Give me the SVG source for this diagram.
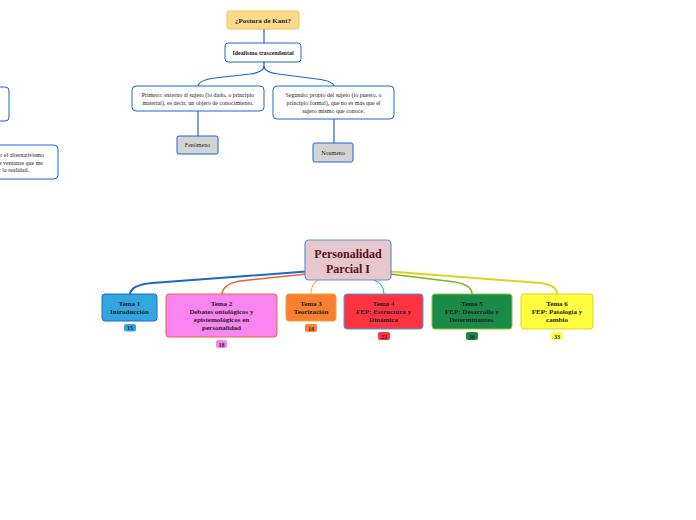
<svg xmlns="http://www.w3.org/2000/svg" width="696" height="520" viewBox="0 0 696 520">
<style>
text{font-family:"Liberation Serif","Times New Roman",serif;text-anchor:middle;fill:#222}
.b{font-weight:bold}
.s{font-size:6px}
.t{font-size:7px;font-weight:bold}
.w{fill:#fff;stroke:#1a66d0;stroke-width:1}
.c{fill:none;stroke-linecap:round}
.bd{font-size:6px;font-weight:bold}
</style>
<rect width="696" height="520" fill="#fff"/>
<g id="connectors">
<path class="c" d="M264,29 V43" stroke="#1a66d0" stroke-width="1.2"/>
<path class="c" d="M264,62 V66 Q264,72 250,74 L215,78 Q199,80 198,86" stroke="#1a66d0" stroke-width="1.2"/>
<path class="c" d="M264,66 Q264,72 278,74 L317,79 Q333,81 334,86" stroke="#1a66d0" stroke-width="1.2"/>
<path class="c" d="M198,111 V136" stroke="#1a66d0" stroke-width="1.2"/>
<path class="c" d="M334,119 V143" stroke="#1a66d0" stroke-width="1.2"/>
<path class="c" d="M306,271.5 L152,283 Q131,285 130,294" stroke="#1a66d0" stroke-width="2"/>
<path class="c" d="M306,274 L240,281 Q223,284 222,294" stroke="#f06030" stroke-width="1.5"/>
<path class="c" d="M318,280 Q311,284 311,294" stroke="#f5b030" stroke-width="1.1"/>
<path class="c" d="M374,280 Q384,284 384,294" stroke="#33a6e0" stroke-width="1.1"/>
<path class="c" d="M390,274 L455,282 Q472,285 472,294" stroke="#80b020" stroke-width="1.5"/>
<path class="c" d="M390,271.5 L540,283 Q557,285 557,294" stroke="#e0d020" stroke-width="2"/>
</g>
<g id="kant"><rect x="227" y="11" width="72" height="18" rx="3" fill="#ffd98a" stroke="#f0c050"/><text class="b" font-size="7" x="263" y="22.5">¿Postura de Kant?</text></g>
<g id="idealismo"><rect class="w" x="225" y="43" width="76" height="19" rx="3"/><text class="s b" x="263" y="54.5">Idealismo trascendental</text></g>
<g id="primero"><rect class="w" x="132" y="86" width="132" height="25" rx="4"/><text class="s" x="198" y="96.5">Primero: externo al sujeto (lo dado, o principio</text><text class="s" x="198" y="104.5">material), es decir, un objeto de conocimiento.</text></g>
<g id="segundo"><rect class="w" x="273" y="86" width="121" height="33" rx="4"/><text class="s" x="333.5" y="96.5">Segundo: propio del sujeto (lo puesto, o</text><text class="s" x="333.5" y="104.5">principio formal), que no es más que el</text><text class="s" x="333.5" y="112.5">sujeto mismo que conoce.</text></g>
<g id="fenomeno"><rect x="177" y="136" width="41" height="18" rx="2" fill="#d3d3d3" stroke="#1a66d0"/><text class="s" x="197.5" y="147">Fenómeno</text></g>
<g id="noumeno"><rect x="313" y="143" width="40" height="19" rx="2" fill="#d3d3d3" stroke="#1a66d0"/><text class="s" x="333" y="154.5">Noumeno</text></g>
<g id="left1"><rect class="w" x="-40" y="87" width="49" height="34" rx="4"/></g>
<g id="left2"><rect class="w" x="-80" y="145" width="138" height="34" rx="4"/><text class="s" x="44" y="157" style="text-anchor:end">r el alternativismo</text><text class="s" x="43" y="164.5" style="text-anchor:end">s ventanas que me</text><text class="s" x="29" y="172" style="text-anchor:end">r la realidad.</text></g>
<g id="central"><rect x="305" y="240" width="86" height="40" rx="4" fill="#e6c7cb" stroke="#5a8ee0" stroke-width="1.2"/><text class="b" x="348" y="257.5" font-size="12" style="fill:#5a1020">Personalidad</text><text class="b" x="348" y="273" font-size="12" style="fill:#5a1020">Parcial I</text></g>
<g id="tema1"><rect x="102" y="294" width="55" height="27" rx="3" fill="#33a6e0" stroke="#1a66d0"/><text class="t" x="129.5" y="305.5">Tema 1</text><text class="t" x="129.5" y="313.5">Introducción</text><rect x="124" y="324" width="12" height="7.5" rx="2" fill="#33a6e0"/><text class="bd" x="130" y="330">15</text></g>
<g id="tema2"><rect x="166" y="294" width="111" height="43" rx="3" fill="#f986f0" stroke="#f06030"/><text class="t" x="221.5" y="305.5">Tema 2</text><text class="t" x="221.5" y="313.5">Debates ontológicos y</text><text class="t" x="221.5" y="321.5">epistemológicos en</text><text class="t" x="221.5" y="330">personalidad</text><rect x="216" y="340" width="11" height="8" rx="2" fill="#f986f0"/><text class="bd" x="221.5" y="346.5">18</text></g>
<g id="tema3"><rect x="286" y="294" width="50" height="27" rx="3" fill="#f98030" stroke="#f5a030"/><text class="t" x="311" y="305.5">Tema 3</text><text class="t" x="311" y="313.5">Teorización</text><rect x="305" y="324" width="12" height="8" rx="2" fill="#f98030"/><text class="bd" x="311" y="330.5">14</text></g>
<g id="tema4"><rect x="344" y="294" width="79" height="35" rx="3" fill="#ff3440" stroke="#33a6e0"/><text class="t" x="383.5" y="305.5">Tema 4</text><text class="t" x="383.5" y="313.5">FEP: Estructura y</text><text class="t" x="383.5" y="322">Dinámica</text><rect x="378" y="332" width="12" height="8" rx="2" fill="#ff3440"/><text class="bd" x="384" y="338.5">23</text></g>
<g id="tema5"><rect x="432" y="294" width="80" height="35" rx="3" fill="#1a8a48" stroke="#90c030"/><text class="t" x="472" y="305.5">Tema 5</text><text class="t" x="472" y="313.5">FEP: Desarrollo y</text><text class="t" x="472" y="322">Determinantes.</text><rect x="466" y="332" width="12" height="8" rx="2" fill="#1a8a48"/><text class="bd" x="472" y="338.5">30</text></g>
<g id="tema6"><rect x="521" y="294" width="72" height="35" rx="3" fill="#ffff40" stroke="#e0d020"/><text class="t" x="557" y="305.5">Tema 6</text><text class="t" x="557" y="313.5">FEP: Patología y</text><text class="t" x="557" y="322">cambio</text><rect x="551" y="332" width="12" height="8" rx="2" fill="#ffff40"/><text class="bd" x="557" y="338.5">33</text></g>
</svg>
